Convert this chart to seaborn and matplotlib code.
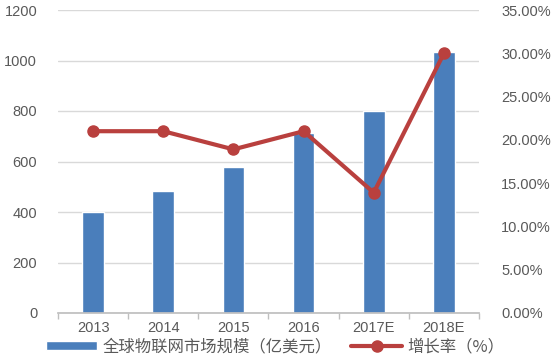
import matplotlib
matplotlib.use("Agg")
import matplotlib.pyplot as plt
import seaborn as sns
import pandas as pd
import numpy as np
from matplotlib.ticker import FuncFormatter, FixedLocator

years = ["2013", "2014", "2015", "2016", "2017E", "2018E"]
market = [400, 483, 577, 713, 800, 1035]
growth = [21.0, 21.0, 18.9, 21.0, 13.9, 30.0]
left_ticks = [0, 200, 400, 600, 800, 1000, 1200]
right_ticks = [0, 5, 10, 15, 20, 25, 30, 35]
bar_label = "全球物联网市场规模（亿美元）"
line_label = "增长率（%）"

sns.set_theme(style="white")
plt.rcParams['font.family'] = ['Liberation Sans', 'Noto Sans CJK SC', 'DejaVu Sans']

bar_color = "#4A7EBB"
line_color = "#B9403E"
text_color = "#595959"

df = pd.DataFrame({"year": years, "market": market, "growth": growth})

fig = plt.figure(figsize=(5.56, 3.62), dpi=100)
ax = fig.add_axes([58/556, 1-313/362, (479-58)/556, (313-10)/362])
sns.barplot(data=df, x="year", y="market", ax=ax, color=bar_color, width=0.31,
            saturation=1, label=bar_label)
if ax.get_legend() is not None:
    ax.get_legend().remove()
ax.set_ylim(0, 1200)
ax.set_yticks(left_ticks)
ax.set_xlim(-0.5, 5.5)
ax.set_xlabel("")
ax.set_ylabel("")
for s in ["left", "right", "top"]:
    ax.spines[s].set_visible(False)
ax.spines["bottom"].set_color("#BFBFBF")
ax.yaxis.grid(True, color="#D9D9D9", linewidth=1)
ax.set_axisbelow(True)
ax.tick_params(axis="y", length=0, pad=15, labelsize=10.5, labelcolor=text_color)
ax.tick_params(axis="x", which="major", length=0, pad=6, labelsize=10.5, labelcolor=text_color)
ax.xaxis.set_minor_locator(FixedLocator(np.arange(-0.5, 6, 1)))
ax.tick_params(axis="x", which="minor", length=4, color="#BFBFBF", bottom=True)

ax2 = ax.twinx()
ax2.plot(np.arange(len(years)), growth, color=line_color, lw=3, marker="o",
         markersize=8, label=line_label)
ax2.set_ylim(0, 35)
ax2.set_yticks(right_ticks)
ax2.yaxis.set_major_formatter(FuncFormatter(lambda v, p: f"{v:.2f}%"))
ax2.set_xlim(-0.5, 5.5)
for s in ["left", "right", "top", "bottom"]:
    ax2.spines[s].set_visible(False)
ax2.tick_params(axis="y", length=0, pad=16, labelsize=10.5, labelcolor=text_color)
ax2.grid(False)

h1, l1 = ax.get_legend_handles_labels()
h2, l2 = ax2.get_legend_handles_labels()
leg = fig.legend(h1 + h2, l1 + l2, loc="center", bbox_to_anchor=(0.495, 1-347/362),
                 ncol=2, frameon=False, fontsize=11.8, handlelength=3.1, handleheight=0.45,
                 columnspacing=1.2, handletextpad=0.35)
for t in leg.get_texts():
    t.set_color(text_color)
    t.set_fontfamily(['Noto Sans CJK SC', 'DejaVu Sans'])

fig.savefig("out.png", dpi=100)
